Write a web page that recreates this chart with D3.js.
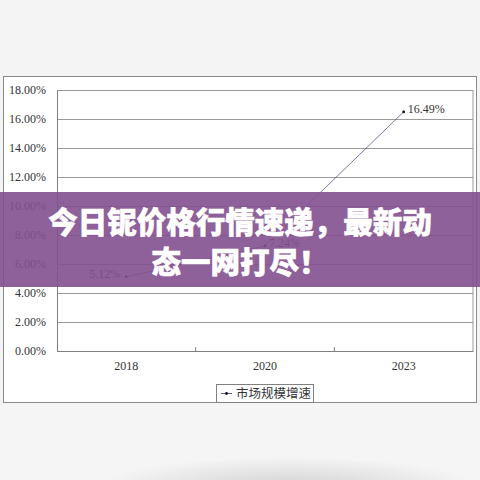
<!DOCTYPE html>
<html>
<head>
<meta charset="utf-8">
<script src="https://cdn.jsdelivr.net/npm/d3@7"></script>
<style>
  html, body { margin: 0; padding: 0; background: #f3f3f3; }
</style>
</head>
<body>
<div id="chart"></div>
<script>
const years = ["2018", "2020", "2023"];
const growth = [0.0512, 0.0724, 0.1649];
const growthLabels = ["5.12%", "7.24%", "16.49%"];
const yTicks = [0, 0.02, 0.04, 0.06, 0.08, 0.10, 0.12, 0.14, 0.16, 0.18];
const seriesName = "市场规模增速";
const bannerLines = ["今日铌价格行情速递，最新动", "态一网打尽！"];

const width = 480;
const height = 480;
const plot = { left: 57, right: 473, top: 90, bottom: 351 };

const svg = d3.select('#chart')
    .append('svg')
    .attr('width', width)
    .attr('height', height);

// soft grey backdrop
const defs = svg.append('defs');
const blob = defs.append('radialGradient').attr('id', 'blob')
    .attr('cx', '0.6').attr('cy', '1.1').attr('r', '0.4');
blob.append('stop').attr('offset', '0%').attr('stop-color', '#d2d2d2');
blob.append('stop').attr('offset', '100%').attr('stop-color', '#f5f5f5');
svg.append('rect').attr('width', width).attr('height', height).attr('fill', '#f4f4f4');
svg.append('rect').attr('y', 403).attr('width', width).attr('height', 77).attr('fill', 'url(#blob)');

// chart frame
svg.append('rect')
    .attr('x', 3.5).attr('y', 76.5).attr('width', 473).attr('height', 326)
    .attr('fill', '#fff').attr('stroke', '#8a8a8a');

const x = d3.scaleBand()
    .domain(years)
    .range([plot.left, plot.right]);

const y = d3.scaleLinear()
    .domain([0, 0.18])
    .range([plot.bottom, plot.top]);

// grid
svg.append('g')
    .attr('transform', `translate(${plot.left},0)`)
    .call(d3.axisLeft(y).tickValues(yTicks).tickSize(-(plot.right - plot.left)).tickFormat(''))
    .call(g => g.select('.domain').remove())
    .call(g => g.selectAll('line').attr('stroke', '#9a9a9a'));

svg.append('line')
    .attr('x1', plot.right).attr('x2', plot.right)
    .attr('y1', plot.top).attr('y2', plot.bottom)
    .attr('stroke', '#9a9a9a');

// y labels
svg.append('g')
    .attr('transform', `translate(${plot.left},0)`)
    .call(d3.axisLeft(y).tickValues(yTicks).tickSize(0).tickPadding(11).tickFormat(d3.format('.2%')))
    .call(g => g.select('.domain').attr('stroke', '#808080'))
    .call(g => g.selectAll('text')
        .attr('font-family', '"Liberation Serif", serif')
        .attr('font-size', 12)
        .attr('fill', '#333'));

// x axis
function xAxis(g) {
    g.attr('transform', `translate(0,${plot.bottom})`)
        .call(d3.axisBottom(x).tickSize(0).tickPadding(10))
        .call(g => g.select('.domain').attr('stroke', '#808080'))
        .call(g => g.selectAll('text')
            .attr('font-family', '"Liberation Serif", serif')
            .attr('font-size', 12)
            .attr('fill', '#333'));
}
svg.append('g').call(xAxis);

// small ticks between categories
svg.append('g')
    .selectAll('line')
    .data(years.slice(1))
    .join('line')
        .attr('x1', d => x(d)).attr('x2', d => x(d))
        .attr('y1', plot.bottom).attr('y2', plot.bottom - 4)
        .attr('stroke', '#808080');

const cx = (d, i) => x(years[i]) + x.bandwidth() / 2;

svg.append('path')
    .datum(growth)
    .attr('fill', 'none')
    .attr('stroke', '#5e5488')
    .attr('stroke-width', 0.8)
    .attr('d', d3.line().x(cx).y(d => y(d)));

svg.append('g')
    .selectAll('circle')
    .data(growth)
    .join('circle')
        .attr('cx', cx)
        .attr('cy', d => y(d))
        .attr('r', 1.4)
        .attr('fill', '#111');

svg.append('g')
    .selectAll('text')
    .data(growth)
    .join('text')
        .attr('x', (d, i) => i === 0 ? cx(d, i) - 6 : cx(d, i) + 4)
        .attr('y', d => y(d) + 1)
        .attr('text-anchor', (d, i) => i === 0 ? 'end' : 'start')
        .attr('font-family', '"Liberation Serif", serif')
        .attr('font-size', 12)
        .attr('fill', '#333')
        .text((d, i) => growthLabels[i]);

// legend
const lg = svg.append('g').attr('transform', 'translate(216,384)');
lg.append('rect').attr('x', 0.5).attr('y', 0.5).attr('width', 97).attr('height', 18)
    .attr('fill', '#fff').attr('stroke', '#808080');
lg.append('line').attr('x1', 5).attr('x2', 16).attr('y1', 9.5).attr('y2', 9.5)
    .attr('stroke', '#5e5488');
lg.append('circle').attr('cx', 10.5).attr('cy', 9.5).attr('r', 1.4).attr('fill', '#111');
lg.append('text').attr('x', 20).attr('y', 14)
    .attr('font-family', '"Noto Sans CJK SC", sans-serif')
    .attr('font-size', 12.5)
    .attr('fill', '#333')
    .text(seriesName);

// banner
svg.append('rect')
    .attr('x', 0).attr('y', 192).attr('width', width).attr('height', 95)
    .attr('fill', '#83508f').attr('opacity', 0.9);

svg.append('g')
    .selectAll('text')
    .data(bannerLines)
    .join('text')
        .attr('x', width / 2)
        .attr('y', (d, i) => 233 + i * 40)
        .attr('text-anchor', 'middle')
        .attr('font-family', '"Noto Sans CJK SC", sans-serif')
        .attr('font-weight', 900)
        .attr('font-size', 29.5)
        .attr('fill', '#fff')
        .attr('stroke', '#fff')
        .attr('stroke-width', 0.6)
        .text(d => d);
</script>
</body>
</html>
